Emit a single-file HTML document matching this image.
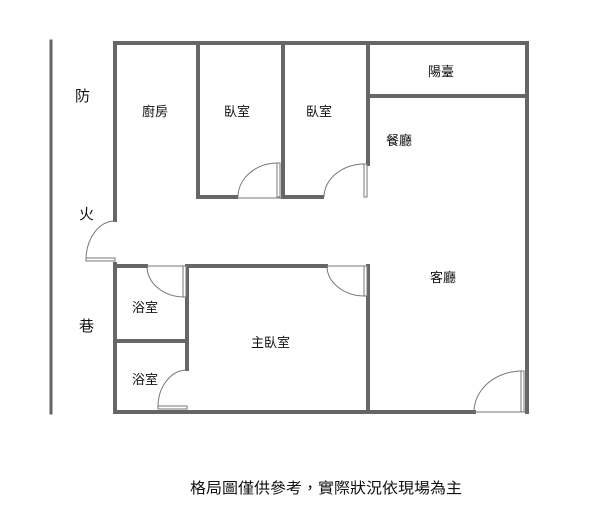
<!DOCTYPE html>
<html><head><meta charset="utf-8"><style>
body{margin:0;background:#fff;width:616px;height:525px;overflow:hidden}
svg text{font-family:"Liberation Sans","Noto Sans CJK TC",sans-serif;fill:#111}
</style></head><body>
<svg width="616" height="525" xmlns="http://www.w3.org/2000/svg">
<g stroke="#666" stroke-width="4" fill="none" stroke-linecap="square">
<line x1="51" y1="41" x2="51" y2="413" stroke-width="3"/>
<line x1="115" y1="43" x2="527" y2="43"/>
<line x1="115" y1="43" x2="115" y2="220"/>
<line x1="115" y1="264" x2="115" y2="412"/>
<line x1="198" y1="43" x2="198" y2="197"/>
<line x1="198" y1="197" x2="236" y2="197"/>
<line x1="283" y1="43" x2="283" y2="197"/>
<line x1="283" y1="197" x2="322" y2="197"/>
<line x1="368" y1="43" x2="368" y2="164"/>
<line x1="368" y1="96" x2="527" y2="96"/>
<line x1="527" y1="43" x2="527" y2="412"/>
<line x1="115" y1="266" x2="146" y2="266"/>
<line x1="187" y1="266" x2="326" y2="266"/>
<line x1="187" y1="266" x2="187" y2="369"/>
<line x1="115" y1="341" x2="187" y2="341"/>
<line x1="368" y1="266" x2="368" y2="412"/>
<line x1="115" y1="412" x2="474" y2="412"/>
</g>
<g stroke="#777" stroke-width="1" fill="#fff">
<path d="M238 197 A40 34 0 0 1 278 163" fill="none"/>
<rect x="277" y="163" width="3" height="34"/>
<line x1="238" y1="198" x2="283" y2="198"/>
<path d="M324 197 A41 33 0 0 1 365 164" fill="none"/>
<rect x="364" y="164" width="3" height="33"/>
<path d="M86 260 A29 39 0 0 1 115 221" fill="none"/>
<rect x="86" y="258" width="29" height="3"/>
<path d="M147 266 A37 31 0 0 0 184 297" fill="none"/>
<rect x="183" y="266" width="3" height="31"/>
<line x1="147" y1="266" x2="187" y2="266"/>
<path d="M327 266 A38 30 0 0 0 365 296" fill="none"/>
<rect x="364" y="266" width="3" height="30"/>
<line x1="327" y1="266" x2="368" y2="266"/>
<path d="M158 407 A29 37 0 0 1 187 370" fill="none"/>
<rect x="158" y="406" width="29" height="3"/>
<path d="M474 412 A48 41 0 0 1 522 371" fill="none"/>
<rect x="521" y="371" width="3" height="41"/>
<line x1="474" y1="412" x2="527" y2="412"/>
</g>
<g font-size="13">
<text x="142" y="116">廚房</text>
<text x="224" y="116">臥室</text>
<text x="306" y="116">臥室</text>
<text x="428" y="76">陽臺</text>
<text x="386" y="145">餐廳</text>
<text x="430" y="282">客廳</text>
<text x="132" y="312">浴室</text>
<text x="132" y="384">浴室</text>
<text x="251" y="347">主臥室</text>
</g>
<text x="190" y="493" font-size="15" textLength="272" lengthAdjust="spacingAndGlyphs">格局圖僅供參考，實際狀況依現場為主</text>
<g font-size="15">
<text x="75" y="101">防</text>
<text x="79" y="219">火</text>
<text x="79" y="331">巷</text>
</g>
</svg>
</body></html>
